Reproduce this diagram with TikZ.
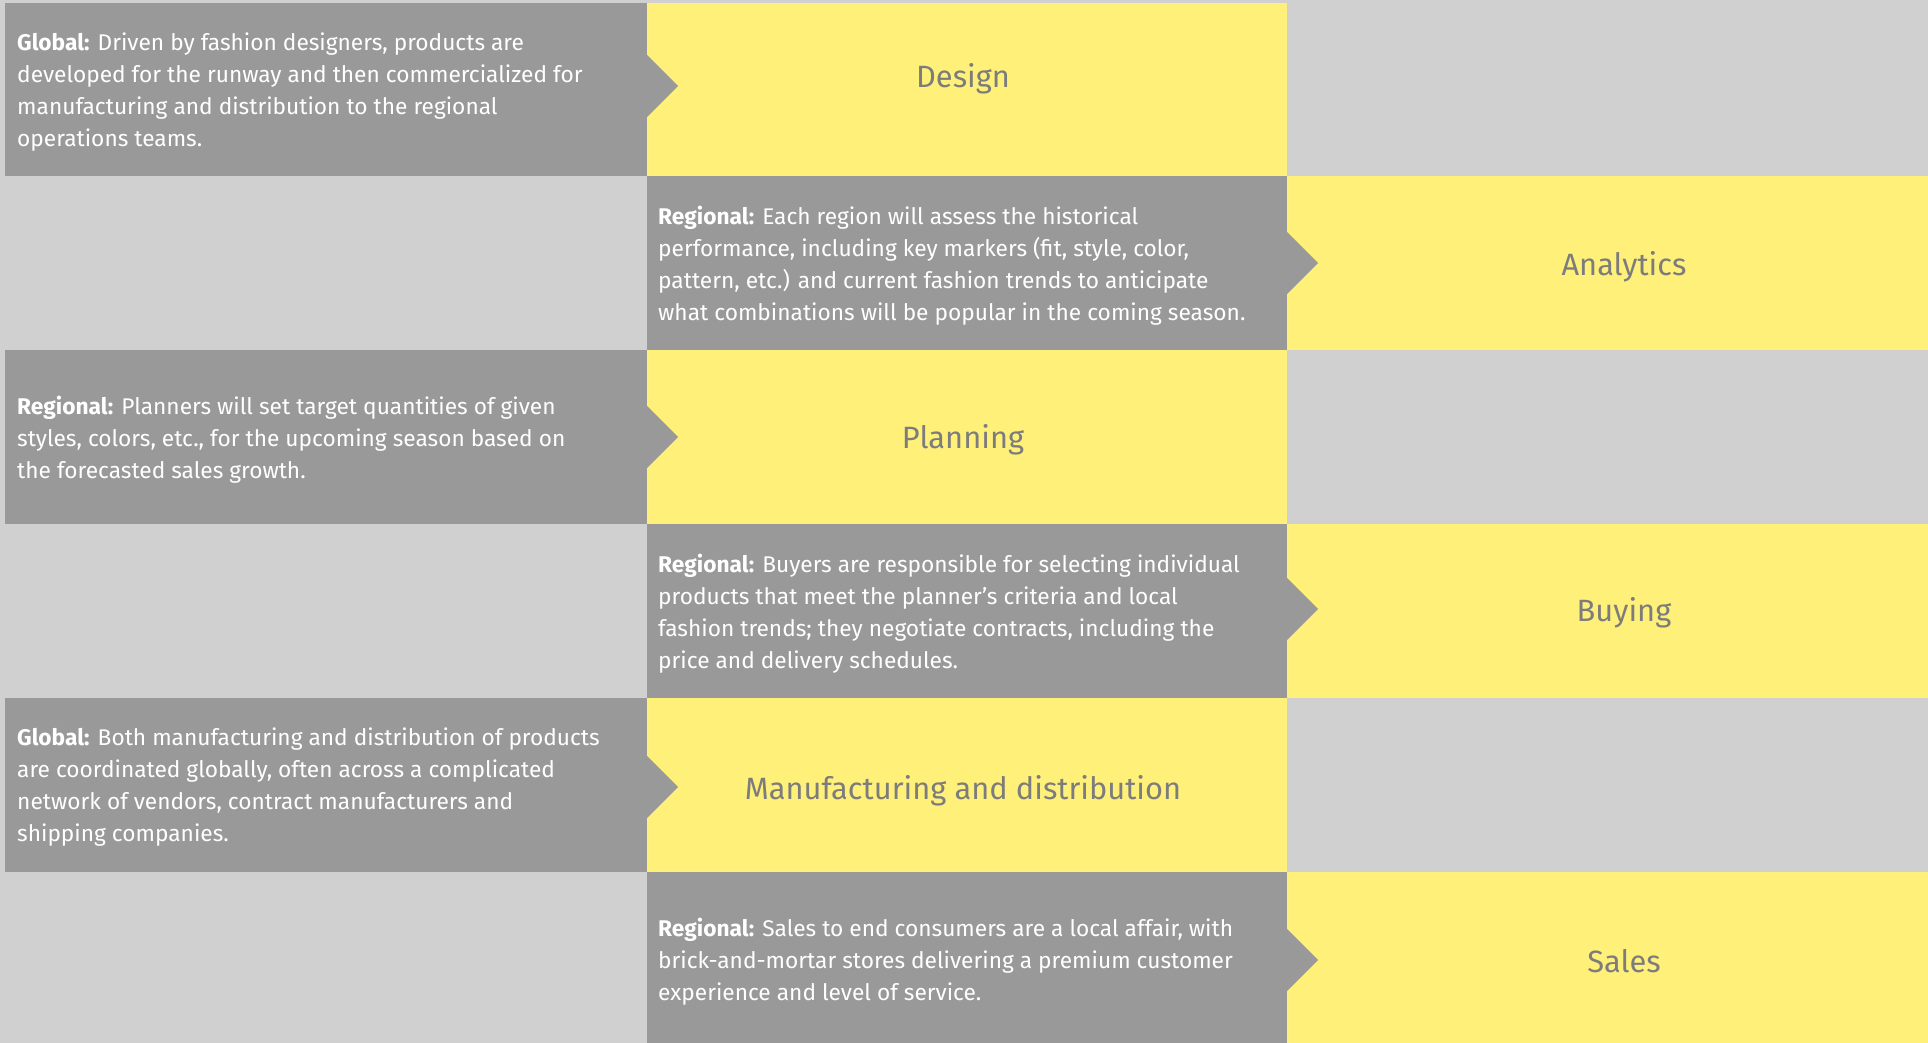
\documentclass[tikz,border=0pt]{standalone}
\usepackage{fontspec}
\setmainfont{Fira Sans}
\definecolor{bgc}{RGB}{208,208,208}
\definecolor{dkc}{RGB}{153,153,153}
\definecolor{ylc}{RGB}{255,240,122}
\definecolor{lblc}{RGB}{124,124,124}
\begin{document}
\begin{tikzpicture}[x=1pt,y=-1pt,
  desc/.style={anchor=west, align=left, text=white, font=\fontsize{22.7}{32}\selectfont, inner sep=0pt},
  lab/.style={text=lblc, font=\fontsize{30.8}{36}\selectfont, inner sep=0pt},
  notch/.style={fill=dkc}]
\useasboundingbox (0,0) rectangle (1928,1043);
\fill[bgc] (0,0) rectangle (1928,1043);
% Row 1: Design
\fill[dkc] (5,3) rectangle (647,176);
\fill[ylc] (647,3) rectangle (1287,176);
\fill[notch] (647,55) -- (678,86) -- (647,117) -- cycle;
\node[desc] (t1) at (17,92) {\textbf{Global:} Driven by fashion designers, products are\\developed for the runway and then commercialized for\\manufacturing and distribution to the regional\\operations teams.};
\node[lab] (l1) at (963,79) {Design};
% Row 2: Analytics
\fill[dkc] (647,176) rectangle (1287,350);
\fill[ylc] (1287,176) rectangle (1928,350);
\fill[notch] (1287,232) -- (1318,263) -- (1287,294) -- cycle;
\node[desc] (t2) at (658,265.5) {\textbf{Regional:} Each region will assess the historical\\performance, including key markers (fit, style, color,\\pattern, etc.) and current fashion trends to anticipate\\what combinations will be popular in the coming season.};
\node[lab] (l2) at (1624,267) {Analytics};
% Row 3: Planning
\fill[dkc] (5,350) rectangle (647,524);
\fill[ylc] (647,350) rectangle (1287,524);
\fill[notch] (647,406) -- (678,437) -- (647,468) -- cycle;
\node[desc] (t3) at (17,439.5) {\textbf{Regional:} Planners will set target quantities of given\\styles, colors, etc., for the upcoming season based on\\the forecasted sales growth.};
\node[lab] (l3) at (963,440) {Planning};
% Row 4: Buying
\fill[dkc] (647,524) rectangle (1287,698);
\fill[ylc] (1287,524) rectangle (1928,698);
\fill[notch] (1287,578) -- (1318,609) -- (1287,640) -- cycle;
\node[desc] (t4) at (658,613.5) {\textbf{Regional:} Buyers are responsible for selecting individual\\products that meet the planner’s criteria and local\\fashion trends; they negotiate contracts, including the\\price and delivery schedules.};
\node[lab] (l4) at (1624,613) {Buying};
% Row 5: Manufacturing and distribution
\fill[dkc] (5,698) rectangle (647,872);
\fill[ylc] (647,698) rectangle (1287,872);
\fill[notch] (647,756) -- (678,787) -- (647,818) -- cycle;
\node[desc] (t5) at (17,787.5) {\textbf{Global:} Both manufacturing and distribution of products\\are coordinated globally, often across a complicated\\network of vendors, contract manufacturers and\\shipping companies.};
\node[lab] (l5) at (963,791) {Manufacturing and distribution};
% Row 6: Sales
\fill[dkc] (647,872) rectangle (1287,1043);
\fill[ylc] (1287,872) rectangle (1928,1043);
\fill[notch] (1287,929) -- (1318,960) -- (1287,991) -- cycle;
\node[desc] (t6) at (658,961.5) {\textbf{Regional:} Sales to end consumers are a local affair, with\\brick-and-mortar stores delivering a premium customer\\experience and level of service.};
\node[lab] (l6) at (1624,961) {Sales};
\end{tikzpicture}
\end{document}
